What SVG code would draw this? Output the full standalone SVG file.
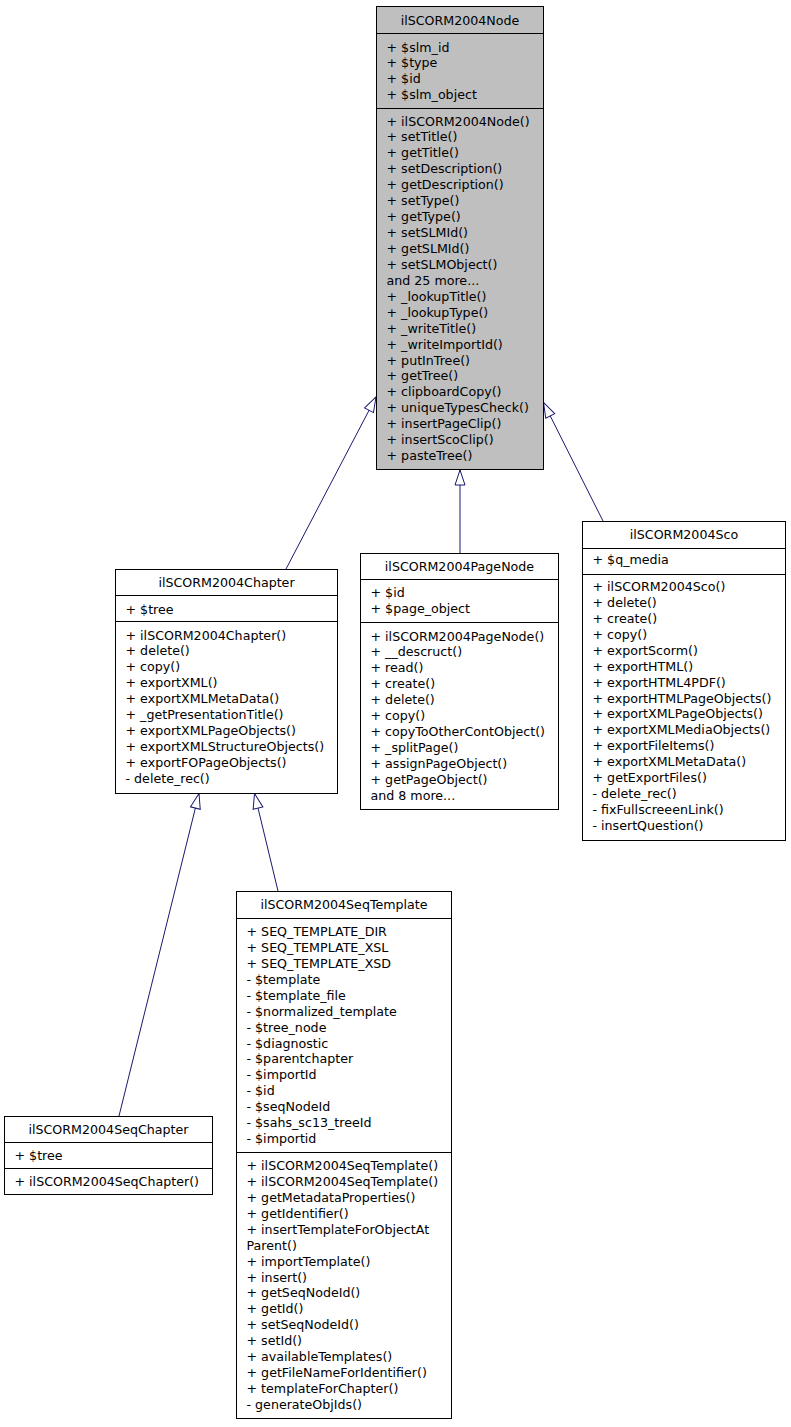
<svg xmlns="http://www.w3.org/2000/svg" width="791" height="1427" viewBox="0 0 791 1427">
<style>
.box{fill:#ffffff;stroke:#000000;stroke-width:1}
.gray{fill:#bfbfbf}
.sep{stroke:#000000;stroke-width:1;fill:none}
text{font-family:"DejaVu Sans","Liberation Sans",sans-serif;font-size:12.65px;fill:#000000}
.c{text-anchor:middle}
.edge{stroke:#191970;stroke-width:1;fill:none;marker-end:url(#inh)}
</style>
<defs>
<marker id="inh" viewBox="0 0 15 10" refX="15" refY="5" markerWidth="15" markerHeight="10" markerUnits="userSpaceOnUse" orient="auto" overflow="visible">
<path d="M0,0 L15,5 L0,10 Z" fill="#ffffff" stroke="#191970" stroke-width="1"/>
</marker>
</defs>
<rect x="0" y="0" width="791" height="1427" fill="#ffffff"/>

<g id="connectors">
<line class="edge" x1="286" y1="569" x2="376" y2="397"/>
<line class="edge" x1="460" y1="553" x2="460" y2="470"/>
<line class="edge" x1="603" y1="521" x2="543.5" y2="402.5"/>
<line class="edge" x1="119" y1="1116" x2="199" y2="793.5"/>
<line class="edge" x1="278" y1="891" x2="254.5" y2="793.5"/>
</g>

<g id="ilSCORM2004Node">
<rect class="box gray" x="376.5" y="6.5" width="167" height="463"/>
<line class="sep" x1="376.5" y1="33.5" x2="543.5" y2="33.5"/>
<line class="sep" x1="376.5" y1="108.5" x2="543.5" y2="108.5"/>
<text class="c" x="460" y="24.5">ilSCORM2004Node</text>
<text x="386.5" y="51.5">+ $slm_id</text>
<text x="386.5" y="67.4">+ $type</text>
<text x="386.5" y="83.4">+ $id</text>
<text x="386.5" y="99.3">+ $slm_object</text>
<text x="386.5" y="125.5">+ ilSCORM2004Node()</text>
<text x="386.5" y="141.4">+ setTitle()</text>
<text x="386.5" y="157.4">+ getTitle()</text>
<text x="386.5" y="173.3">+ setDescription()</text>
<text x="386.5" y="189.2">+ getDescription()</text>
<text x="386.5" y="205.2">+ setType()</text>
<text x="386.5" y="221.1">+ getType()</text>
<text x="386.5" y="237">+ setSLMId()</text>
<text x="386.5" y="252.9">+ getSLMId()</text>
<text x="386.5" y="268.9">+ setSLMObject()</text>
<text x="386.5" y="284.8">and 25 more...</text>
<text x="386.5" y="300.7">+ _lookupTitle()</text>
<text x="386.5" y="316.7">+ _lookupType()</text>
<text x="386.5" y="332.6">+ _writeTitle()</text>
<text x="386.5" y="348.5">+ _writeImportId()</text>
<text x="386.5" y="364.5">+ putInTree()</text>
<text x="386.5" y="380.4">+ getTree()</text>
<text x="386.5" y="396.3">+ clipboardCopy()</text>
<text x="386.5" y="412.2">+ uniqueTypesCheck()</text>
<text x="386.5" y="428.2">+ insertPageClip()</text>
<text x="386.5" y="444.1">+ insertScoClip()</text>
<text x="386.5" y="460">+ pasteTree()</text>
</g>

<g id="ilSCORM2004Chapter">
<rect class="box" x="115.5" y="569.5" width="222" height="224"/>
<line class="sep" x1="115.5" y1="595.5" x2="337.5" y2="595.5"/>
<line class="sep" x1="115.5" y1="621.5" x2="337.5" y2="621.5"/>
<text class="c" x="226.5" y="587">ilSCORM2004Chapter</text>
<text x="125.5" y="613.5">+ $tree</text>
<text x="125.5" y="639.5">+ ilSCORM2004Chapter()</text>
<text x="125.5" y="655.4">+ delete()</text>
<text x="125.5" y="671.4">+ copy()</text>
<text x="125.5" y="687.3">+ exportXML()</text>
<text x="125.5" y="703.2">+ exportXMLMetaData()</text>
<text x="125.5" y="719.2">+ _getPresentationTitle()</text>
<text x="125.5" y="735.1">+ exportXMLPageObjects()</text>
<text x="125.5" y="751">+ exportXMLStructureObjects()</text>
<text x="125.5" y="766.9">+ exportFOPageObjects()</text>
<text x="125.5" y="782.9">- delete_rec()</text>
</g>

<g id="ilSCORM2004PageNode">
<rect class="box" x="360.5" y="553.5" width="198" height="256"/>
<line class="sep" x1="360.5" y1="579.5" x2="558.5" y2="579.5"/>
<line class="sep" x1="360.5" y1="622.5" x2="558.5" y2="622.5"/>
<text class="c" x="459.5" y="571">ilSCORM2004PageNode</text>
<text x="370.5" y="597">+ $id</text>
<text x="370.5" y="612.9">+ $page_object</text>
<text x="370.5" y="640.5">+ ilSCORM2004PageNode()</text>
<text x="370.5" y="656.4">+ __descruct()</text>
<text x="370.5" y="672.4">+ read()</text>
<text x="370.5" y="688.3">+ create()</text>
<text x="370.5" y="704.2">+ delete()</text>
<text x="370.5" y="720.2">+ copy()</text>
<text x="370.5" y="736.1">+ copyToOtherContObject()</text>
<text x="370.5" y="752">+ _splitPage()</text>
<text x="370.5" y="767.9">+ assignPageObject()</text>
<text x="370.5" y="783.9">+ getPageObject()</text>
<text x="370.5" y="799.8">and 8 more...</text>
</g>

<g id="ilSCORM2004Sco">
<rect class="box" x="582.5" y="521.5" width="203" height="319"/>
<line class="sep" x1="582.5" y1="548.5" x2="785.5" y2="548.5"/>
<line class="sep" x1="582.5" y1="574.5" x2="785.5" y2="574.5"/>
<text class="c" x="684" y="538.8">ilSCORM2004Sco</text>
<text x="592.5" y="564">+ $q_media</text>
<text x="592.5" y="591">+ ilSCORM2004Sco()</text>
<text x="592.5" y="606.9">+ delete()</text>
<text x="592.5" y="622.9">+ create()</text>
<text x="592.5" y="638.8">+ copy()</text>
<text x="592.5" y="654.7">+ exportScorm()</text>
<text x="592.5" y="670.7">+ exportHTML()</text>
<text x="592.5" y="686.6">+ exportHTML4PDF()</text>
<text x="592.5" y="702.5">+ exportHTMLPageObjects()</text>
<text x="592.5" y="718.4">+ exportXMLPageObjects()</text>
<text x="592.5" y="734.4">+ exportXMLMediaObjects()</text>
<text x="592.5" y="750.3">+ exportFileItems()</text>
<text x="592.5" y="766.2">+ exportXMLMetaData()</text>
<text x="592.5" y="782.2">+ getExportFiles()</text>
<text x="592.5" y="798.1">- delete_rec()</text>
<text x="592.5" y="814">- fixFullscreeenLink()</text>
<text x="592.5" y="829.9">- insertQuestion()</text>
</g>

<g id="ilSCORM2004SeqTemplate">
<rect class="box" x="236.5" y="891.5" width="215" height="527"/>
<line class="sep" x1="236.5" y1="918.5" x2="451.5" y2="918.5"/>
<line class="sep" x1="236.5" y1="1152.5" x2="451.5" y2="1152.5"/>
<text class="c" x="344" y="909">ilSCORM2004SeqTemplate</text>
<text x="246.5" y="936">+ SEQ_TEMPLATE_DIR</text>
<text x="246.5" y="951.9">+ SEQ_TEMPLATE_XSL</text>
<text x="246.5" y="967.9">+ SEQ_TEMPLATE_XSD</text>
<text x="246.5" y="983.8">- $template</text>
<text x="246.5" y="999.7">- $template_file</text>
<text x="246.5" y="1015.7">- $normalized_template</text>
<text x="246.5" y="1031.6">- $tree_node</text>
<text x="246.5" y="1047.5">- $diagnostic</text>
<text x="246.5" y="1063.4">- $parentchapter</text>
<text x="246.5" y="1079.4">- $importId</text>
<text x="246.5" y="1095.3">- $id</text>
<text x="246.5" y="1111.2">- $seqNodeId</text>
<text x="246.5" y="1127.2">- $sahs_sc13_treeId</text>
<text x="246.5" y="1143.1">- $importid</text>
<text x="246.5" y="1170">+ ilSCORM2004SeqTemplate()</text>
<text x="246.5" y="1185.9">+ ilSCORM2004SeqTemplate()</text>
<text x="246.5" y="1201.9">+ getMetadataProperties()</text>
<text x="246.5" y="1217.8">+ getIdentifier()</text>
<text x="246.5" y="1233.7">+ insertTemplateForObjectAt</text>
<text x="246.5" y="1249.7">Parent()</text>
<text x="246.5" y="1265.6">+ importTemplate()</text>
<text x="246.5" y="1281.5">+ insert()</text>
<text x="246.5" y="1297.4">+ getSeqNodeId()</text>
<text x="246.5" y="1313.4">+ getId()</text>
<text x="246.5" y="1329.3">+ setSeqNodeId()</text>
<text x="246.5" y="1345.2">+ setId()</text>
<text x="246.5" y="1361.2">+ availableTemplates()</text>
<text x="246.5" y="1377.1">+ getFileNameForIdentifier()</text>
<text x="246.5" y="1393">+ templateForChapter()</text>
<text x="246.5" y="1408.9">- generateObjIds()</text>
</g>

<g id="ilSCORM2004SeqChapter">
<rect class="box" x="4.5" y="1116.5" width="208" height="78"/>
<line class="sep" x1="4.5" y1="1142.5" x2="212.5" y2="1142.5"/>
<line class="sep" x1="4.5" y1="1168.5" x2="212.5" y2="1168.5"/>
<text class="c" x="108.5" y="1133.5">ilSCORM2004SeqChapter</text>
<text x="14.5" y="1160">+ $tree</text>
<text x="14.5" y="1186">+ ilSCORM2004SeqChapter()</text>
</g>
</svg>
